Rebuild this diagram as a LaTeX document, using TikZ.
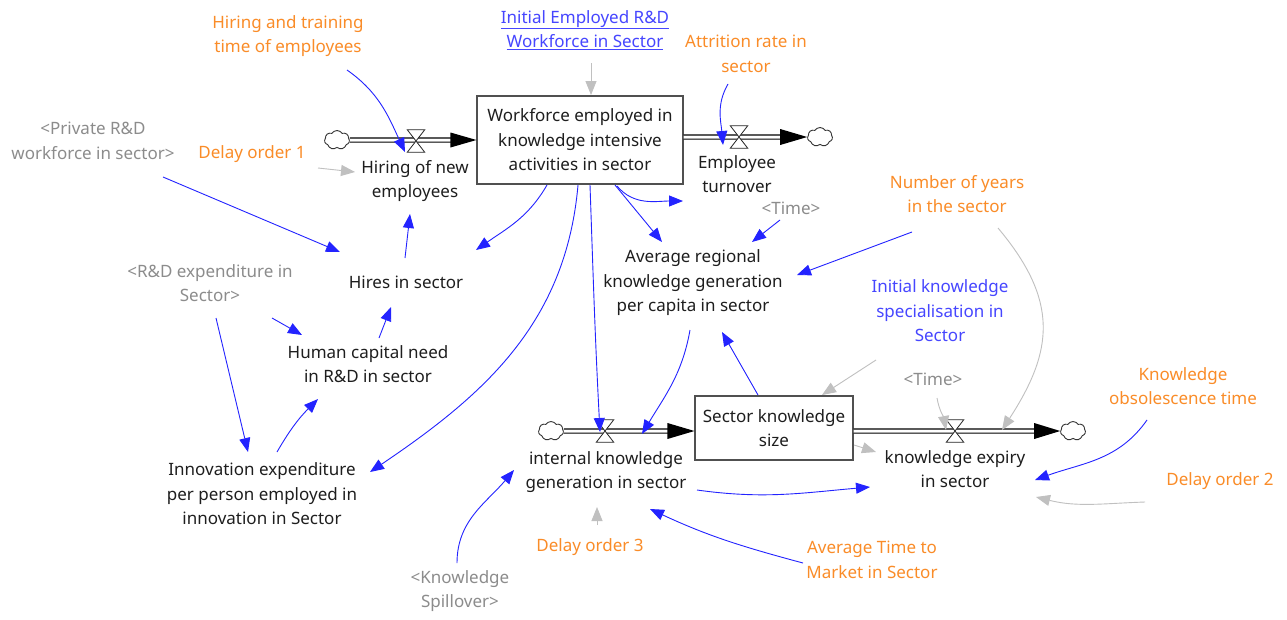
\documentclass[tikz,border=0pt]{standalone}
\usepackage{fontspec}
\setmainfont{Noto Sans}
\usetikzlibrary{arrows.meta,shapes.symbols,calc}

\definecolor{linkblue}{RGB}{35,35,255}
\definecolor{linkgray}{RGB}{192,192,192}
\definecolor{txtorange}{RGB}{250,140,40}
\definecolor{txtblue}{RGB}{70,70,255}
\definecolor{txtgray}{RGB}{140,140,140}
\definecolor{txtblack}{RGB}{30,30,30}
\definecolor{boxline}{RGB}{80,80,80}

\tikzset{
  var/.style={align=center, inner sep=1pt, text=txtblack,
    font=\fontsize{17}{24.5}\selectfont},
  constvar/.style={var, text=txtorange},
  initvar/.style={var, text=txtblue},
  shadowvar/.style={var, text=txtgray},
  stock/.style={var, draw=boxline, line width=1.1pt, fill=white},
  sink/.style={cloud, cloud puffs=7, cloud puff arc=115, aspect=1.35,
    draw=black!80, line width=0.9pt, fill=white, inner sep=0pt,
    minimum width=25pt, minimum height=19pt},
  valvebox/.style={inner sep=0pt, minimum width=17pt, minimum height=22pt},
  pipe/.style={draw=black, line width=1.1pt, double=white, double distance=3pt},
  pipehead/.style={fill=black},
  link/.style={draw=linkblue, line width=0.9pt,
    -{Triangle[length=14pt,width=11pt]}},
  glink/.style={draw=linkgray, line width=0.9pt,
    -{Triangle[length=14pt,width=11pt]}}
}

% hourglass symbol drawn over a flow pipe
\newcommand{\flowvalve}[1]{%
  \filldraw[fill=white, draw=black!85, line width=0.8pt]
    (#1.north west) -- (#1.north east) -- (#1.south west) -- (#1.south east) -- cycle;}

\begin{document}
\begin{tikzpicture}[x=1pt,y=1pt]
\useasboundingbox[fill=white] (0,0) rectangle (1287,-619);

% ---------- stocks ----------
\node[stock, minimum width=206pt, minimum height=88pt] (wf) at (580,-140)
  {Workforce employed in\\knowledge intensive\\activities in sector};
\node[stock, minimum width=158pt, minimum height=64pt] (skb) at (774,-428)
  {Sector knowledge\\size};

% ---------- clouds ----------
\node[sink] (c1) at (337,-140) {};
\node[sink] (c2) at (820,-137) {};
\node[sink] (c3) at (551,-431) {};
\node[sink] (c4) at (1073,-431) {};

% ---------- valves ----------
\node[valvebox] (v1) at (416,-141) {};
\node[valvebox] (v2) at (739,-137) {};
\node[valvebox] (v3) at (605,-431) {};
\node[valvebox] (v4) at (955,-431) {};

% ---------- pipes ----------
\draw[pipe] (c1.east) -- ([xshift=-24pt]wf.west);
\fill[pipehead] (wf.west) -- ++(-26,7.5) -- ++(0,-15) -- cycle;
\draw[pipe] ([yshift=3pt]wf.east) -- ([xshift=-24pt]c2.west);
\fill[pipehead] (c2.west) -- ++(-27,8) -- ++(0,-16) -- cycle;
\draw[pipe] (c3.east) -- ([xshift=-24pt,yshift=-3pt]skb.west);
\fill[pipehead] ([yshift=-3pt]skb.west) -- ++(-27,8) -- ++(0,-16) -- cycle;
\draw[pipe] ([yshift=-3pt]skb.east) -- ([xshift=-24pt]c4.west);
\fill[pipehead] (c4.west) -- ++(-26,8) -- ++(0,-16) -- cycle;

\flowvalve{v1}
\flowvalve{v2}
\flowvalve{v3}
\flowvalve{v4}

% ---------- flow labels ----------
\node[var] (hiring) at (415,-181) {Hiring of new\\employees};
\node[var] (turnover) at (737,-174) {Employee\\turnover};
\node[var] (intgen) at (606,-472) {internal knowledge\\generation in sector};
\node[var] (expiry) at (955,-469) {knowledge expiry\\in sector};

% ---------- auxiliaries ----------
\node[var] (hires) at (406,-282) {Hires in sector};
\node[var] (hcneed) at (368,-364) {Human capital need\\in R\&D in sector};
\node[var] (innov) at (262,-494)
  {Innovation expenditure\\per person employed in\\innovation in Sector};
\node[var] (avg) at (693,-283)
  {Average regional\\knowledge generation\\per capita in sector};

% ---------- constants ----------
\node[constvar] (hirtime) at (288,-36) {Hiring and training\\time of employees};
\node[constvar] (attr) at (746,-54) {Attrition rate in\\sector};
\node[constvar] (delay1) at (252,-154) {Delay order 1};
\node[constvar] (years) at (957,-194) {Number of years\\in the sector};
\node[constvar] (obso) at (1183,-386) {Knowledge\\obsolescence time};
\node[constvar] (delay2) at (1220,-481) {Delay order 2};
\node[constvar] (delay3) at (590,-547) {Delay order 3};
\node[constvar] (ttm) at (872,-560) {Average Time to\\Market in Sector};

% ---------- initial values ----------
\node[initvar] (initwf) at (585,-30)
  {\underline{Initial Employed R\&D}\\\underline{Workforce in Sector}};
\node[initvar] (initks) at (940,-311)
  {Initial knowledge\\specialisation in\\Sector};

% ---------- shadow variables ----------
\node[shadowvar] (privwf) at (93,-141) {<Private R\&D\\workforce in sector>};
\node[shadowvar] (rdexp) at (210,-283) {<R\&D expenditure in\\Sector>};
\node[shadowvar] (time1) at (791,-208) {<Time>};
\node[shadowvar] (time2) at (933,-379) {<Time>};
\node[shadowvar] (spill) at (460,-591) {<Knowledge\\Spillover>};

% ---------- information links ----------
\draw[link] ($(hirtime)+(59,-34)$) to[out=-35,in=115] ($(v1)+(-11,-11)$);
\draw[link] ($(attr)+(-18,-30)$) to[out=-120,in=95] ($(v2)+(-16,-8)$);
\draw[glink] ($(initwf)+(6,-33)$) -- ($(wf)+(11,45)$);
\draw[glink] ($(delay1)+(66,-14)$) -- ($(hiring)+(-60,9)$);
\draw[link] ($(privwf)+(70,-36)$) -- ($(hires)+(-66,30)$);
\draw[link] ($(hires)+(-1,24)$) -- ($(hiring)+(-5,-33)$);
\draw[link] ($(rdexp)+(62,-35)$) -- ($(hcneed)+(-66,29)$);
\draw[link] ($(hcneed)+(11,26)$) -- ($(hires)+(-15,-25)$);
\draw[link] ($(rdexp)+(6,-35)$) -- ($(innov)+(-14,42)$);
\draw[link] ($(innov)+(15,42)$) to[out=60,in=-135] ($(hcneed)+(-50,-35)$);
\draw[link] ($(wf)+(-2,-45)$) to[out=-95,in=34] ($(innov)+(108,22)$);
\draw[link] ($(wf)+(-33,-45)$) to[out=-120,in=35] ($(hires)+(70,32)$);
\draw[link] ($(wf)+(10,-45)$) to[out=-88,in=93] ($(v3)+(-5,-1)$);
\draw[link] ($(wf)+(35,-45)$) -- ($(avg)+(-31,41)$);
\draw[link] ($(wf)+(37,-46)$) to[out=-50,in=180] ($(turnover)+(-54,-27)$);
\draw[link] ($(time1)+(-11,-12)$) -- ($(avg)+(59,41)$);
\draw[link] ($(years)+(-45,-38)$) -- ($(avg)+(104,8)$);
\draw[glink] ($(years)+(41,-34)$) to[out=-50,in=57,looseness=1.2] ($(expiry)+(47,39)$);
\draw[glink] ($(initks)+(-64,-49)$) -- ($(skb)+(48,33)$);
\draw[glink] ($(time2)+(4,-19)$) to[out=-80,in=100] ($(v4)+(-9,1)$);
\draw[link] ($(skb)+(-16,33)$) -- ($(avg)+(29,-49)$);
\draw[link] ($(avg)+(-3,-47)$) to[out=-100,in=59] ($(intgen)+(36,38)$);
\draw[glink] ($(skb)+(80,-17)$) -- ($(expiry)+(-79,17)$);
\draw[link] ($(obso)+(-36,-34)$) to[out=-125,in=20] ($(expiry)+(80,-11)$);
\draw[glink] ($(delay2)+(-75,-21)$) to[out=182,in=-14] ($(expiry)+(81,-28)$);
\draw[link] ($(intgen)+(91,-18)$) to[out=-8,in=185] ($(expiry)+(-85,-18)$);
\draw[glink] ($(delay3)+(7,22)$) -- ($(intgen)+(-9,-35)$);
\draw[link] ($(spill)+(-3,28)$) to[out=90,in=-130] ($(intgen)+(-92,2)$);
\draw[link] ($(ttm)+(-69,-3)$) to[out=165,in=-25] ($(intgen)+(44,-37)$);
\end{tikzpicture}
\end{document}
